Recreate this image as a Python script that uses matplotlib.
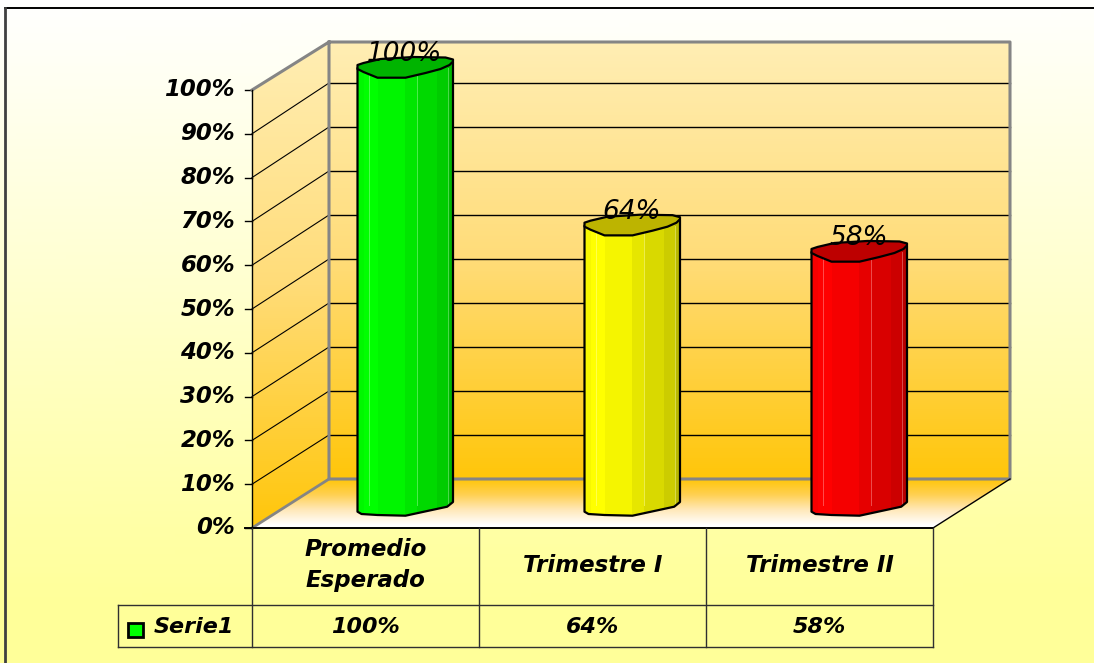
import numpy as np
import matplotlib
matplotlib.use('Agg')
import matplotlib.pyplot as plt
from matplotlib.colors import LinearSegmentedColormap
from matplotlib.patches import Polygon

categories = ['Promedio\nEsperado', 'Trimestre I', 'Trimestre II']
values = [100, 64, 58]
value_labels = ['100%', '64%', '58%']
bar_colors = ['#00ff00', '#ffff00', '#ff0000']
cap_colors = ['#00b400', '#bdb400', '#bd0000']
series_name = 'Serie1'
y_ticks = [0, 10, 20, 30, 40, 50, 60, 70, 80, 90, 100]
y_labels = ['0%', '10%', '20%', '30%', '40%', '50%', '60%', '70%', '80%', '90%', '100%']

W, H = 1094, 663
plt.rcParams['font.family'] = 'DejaVu Sans'
fig = plt.figure(figsize=(W / 100, H / 100), dpi=100)

# page and walls, in pixels
bg = fig.add_axes([0, 0, 1, 1])
bg.set_xlim(0, W)
bg.set_ylim(H, 0)
bg.axis('off')

page = LinearSegmentedColormap.from_list('page', ['#ffffff', '#ffffcc', '#ffff99'])
yy, xx = np.mgrid[0:1:200j, 0:1:200j]
bg.imshow(yy * 1.0 + xx * 0.02, cmap=page, extent=[0, W, H, 0], aspect='auto', vmin=0, vmax=0.92)
bg.set_xlim(0, W)
bg.set_ylim(H, 0)
bg.plot([5, W], [8, 8], color='black', lw=1.4)
bg.plot([5, 5], [8, H], color='#404040', lw=2)

wall = LinearSegmentedColormap.from_list('wall', ['#ffeeb4', '#ffdc78', '#ffc60a'])
grad = np.linspace(0, 1, 256).reshape(-1, 1)
im = bg.imshow(grad, cmap=wall, extent=[329, 1010, 479, 42], aspect='auto')
side = bg.imshow(grad, cmap=wall, extent=[252, 329, 528, 42], aspect='auto')
side_poly = Polygon([(252, 90), (329, 42), (329, 479), (252, 528)], transform=bg.transData, fc='none', ec='none')
bg.add_patch(side_poly)
side.set_clip_path(side_poly)
floor_map = LinearSegmentedColormap.from_list('floor', ['#ffc60a', '#ffd050', '#ffe8b8', '#ffffff'])
fl = bg.imshow(grad, cmap=floor_map, extent=[252, 1010, 525, 479], aspect='auto')
floor_poly = Polygon([(252, 528), (329, 479), (1010, 479), (933, 528)], transform=bg.transData, fc='#ffffff', ec='none')
bg.add_patch(floor_poly)
fl.set_zorder(floor_poly.get_zorder() + 0.1)
fl.set_clip_path(floor_poly)
bg.set_xlim(0, W)
bg.set_ylim(H, 0)

# gridlines on the walls
for t in y_ticks[1:-1]:
    yb = 479 - t * 4.4
    yf = 528 - t * 4.38
    bg.plot([329, 1010], [yb, yb], color='black', lw=1, zorder=3)
    bg.plot([252, 329], [yf, yb], color='black', lw=0.8, zorder=3)
for t, lab in zip(y_ticks, y_labels):
    yf = 528 - t * 4.38
    bg.plot([245, 252], [yf, yf], color='black', lw=1, zorder=3)
    bg.text(235, yf, lab, ha='right', va='center', fontsize=16.5, fontweight='bold', fontstyle='italic')

grey = '#858585'
bg.plot([252, 329, 1010, 1010, 329, 329], [90, 42, 42, 479, 479, 42], color=grey, lw=2.2, zorder=4)
bg.plot([252, 329], [528, 479], color=grey, lw=2, zorder=4)
bg.plot([933, 1010], [528, 479], color='black', lw=1, zorder=4)
bg.plot([252, 252], [90, 528], color='black', lw=1, zorder=4)
bg.plot([245, 933], [528, 528], color='black', lw=1.4, zorder=4)

# data table
bg.plot([118, 933], [605, 605], color='#303030', lw=1, zorder=4)
bg.plot([118, 933], [647, 647], color='#303030', lw=1, zorder=4)
bg.plot([118, 118], [605, 647], color='#303030', lw=1, zorder=4)
col_edges = [252, 479, 706, 933]
for x in col_edges:
    bg.plot([x, x], [528, 647], color='#303030', lw=1, zorder=4)
for i in range(3):
    xc = (col_edges[i] + col_edges[i + 1]) / 2
    bg.text(xc, 565, categories[i], ha='center', va='center', fontsize=16.5, fontweight='bold',
            fontstyle='italic', linespacing=1.5)
    bg.text(xc, 627, value_labels[i], ha='center', va='center', fontsize=16, fontweight='bold',
            fontstyle='italic')
bg.add_patch(plt.Rectangle((128, 623), 15, 14, fc=bar_colors[0], ec='black', lw=2, zorder=4))
bg.text(154, 627, series_name, ha='left', va='center', fontsize=16, fontweight='bold', fontstyle='italic')

# bars: x in category units, y in percent
ax = fig.add_axes([292 / W, 1 - 506 / H, (973 - 292) / W, (506 - 68) / H])
ax.set_xlim(-0.5, 2.5)
ax.set_ylim(0, 100)
ax.axis('off')
ax.patch.set_alpha(0)

px_x = 3 / (973 - 292)
px_y = 100 / (506 - 68)
facets = [-48, -42, -37, -28, -1, 11, 31, 42, 47.5]
shades = [0.97, 1.0, 1.0, 0.96, 0.9, 0.85, 0.8, 0.72]
lower = np.array([[47.5, -6.5], [44, -3], [35, 1], [20, 5], [0, 9.7], [-28, 9.7], [-42, 4], [-48, 1]])
upper = np.array([[-48, -3], [-42, -5], [-25, -9], [8, -11], [40, -10.5], [47.5, -8.5]])
bottom = np.array([[-48, 5.7], [-44, 8], [-28, 9], [0, 9.7], [41.7, 0.7], [47.5, -4]])
drop = 12
rise = 8

for i, v in enumerate(values):
    base = np.array(matplotlib.colors.to_rgb(bar_colors[i]))
    outline = [(i + x * px_x, -y * px_y) for x, y in bottom]
    outline += [(i + 47.5 * px_x, v + 6 * px_y), (i - 48 * px_x, v)]
    for k, s in enumerate(shades):
        x0 = facets[k] * px_x
        x1 = facets[k + 1] * px_x
        col = ax.bar(i + (x0 + x1) / 2, v + (drop + rise) * px_y, bottom=-drop * px_y, width=x1 - x0,
                     color=tuple(base * s), lw=0, zorder=2)
        clip = Polygon(outline, closed=True, transform=ax.transData)
        col[0].set_clip_box(None)
        col[0].set_clip_path(clip)
        if k in (1, 4, 6):
            ax.plot([i + x1, i + x1], [0, v], color=tuple(base * s + (1 - base * s) * 0.3), lw=0.7, zorder=3)
    ax.add_patch(Polygon(outline, closed=True, fc='none', ec='black', lw=1.6, joinstyle='round', clip_on=False, zorder=4))
    # top of the column
    cap = [(i + x * px_x, v - y * px_y) for x, y in np.vstack([lower, upper])]
    ax.add_patch(Polygon(cap, closed=True, fc=cap_colors[i], ec='black', lw=1.6, joinstyle='round', clip_on=False, zorder=5))
    ax.text(i - 1 * px_x, v + 14 * px_y, value_labels[i], ha='center', va='center', fontsize=19,
            fontstyle='italic', clip_on=False, zorder=6)

fig.savefig('out.png', dpi=100)
